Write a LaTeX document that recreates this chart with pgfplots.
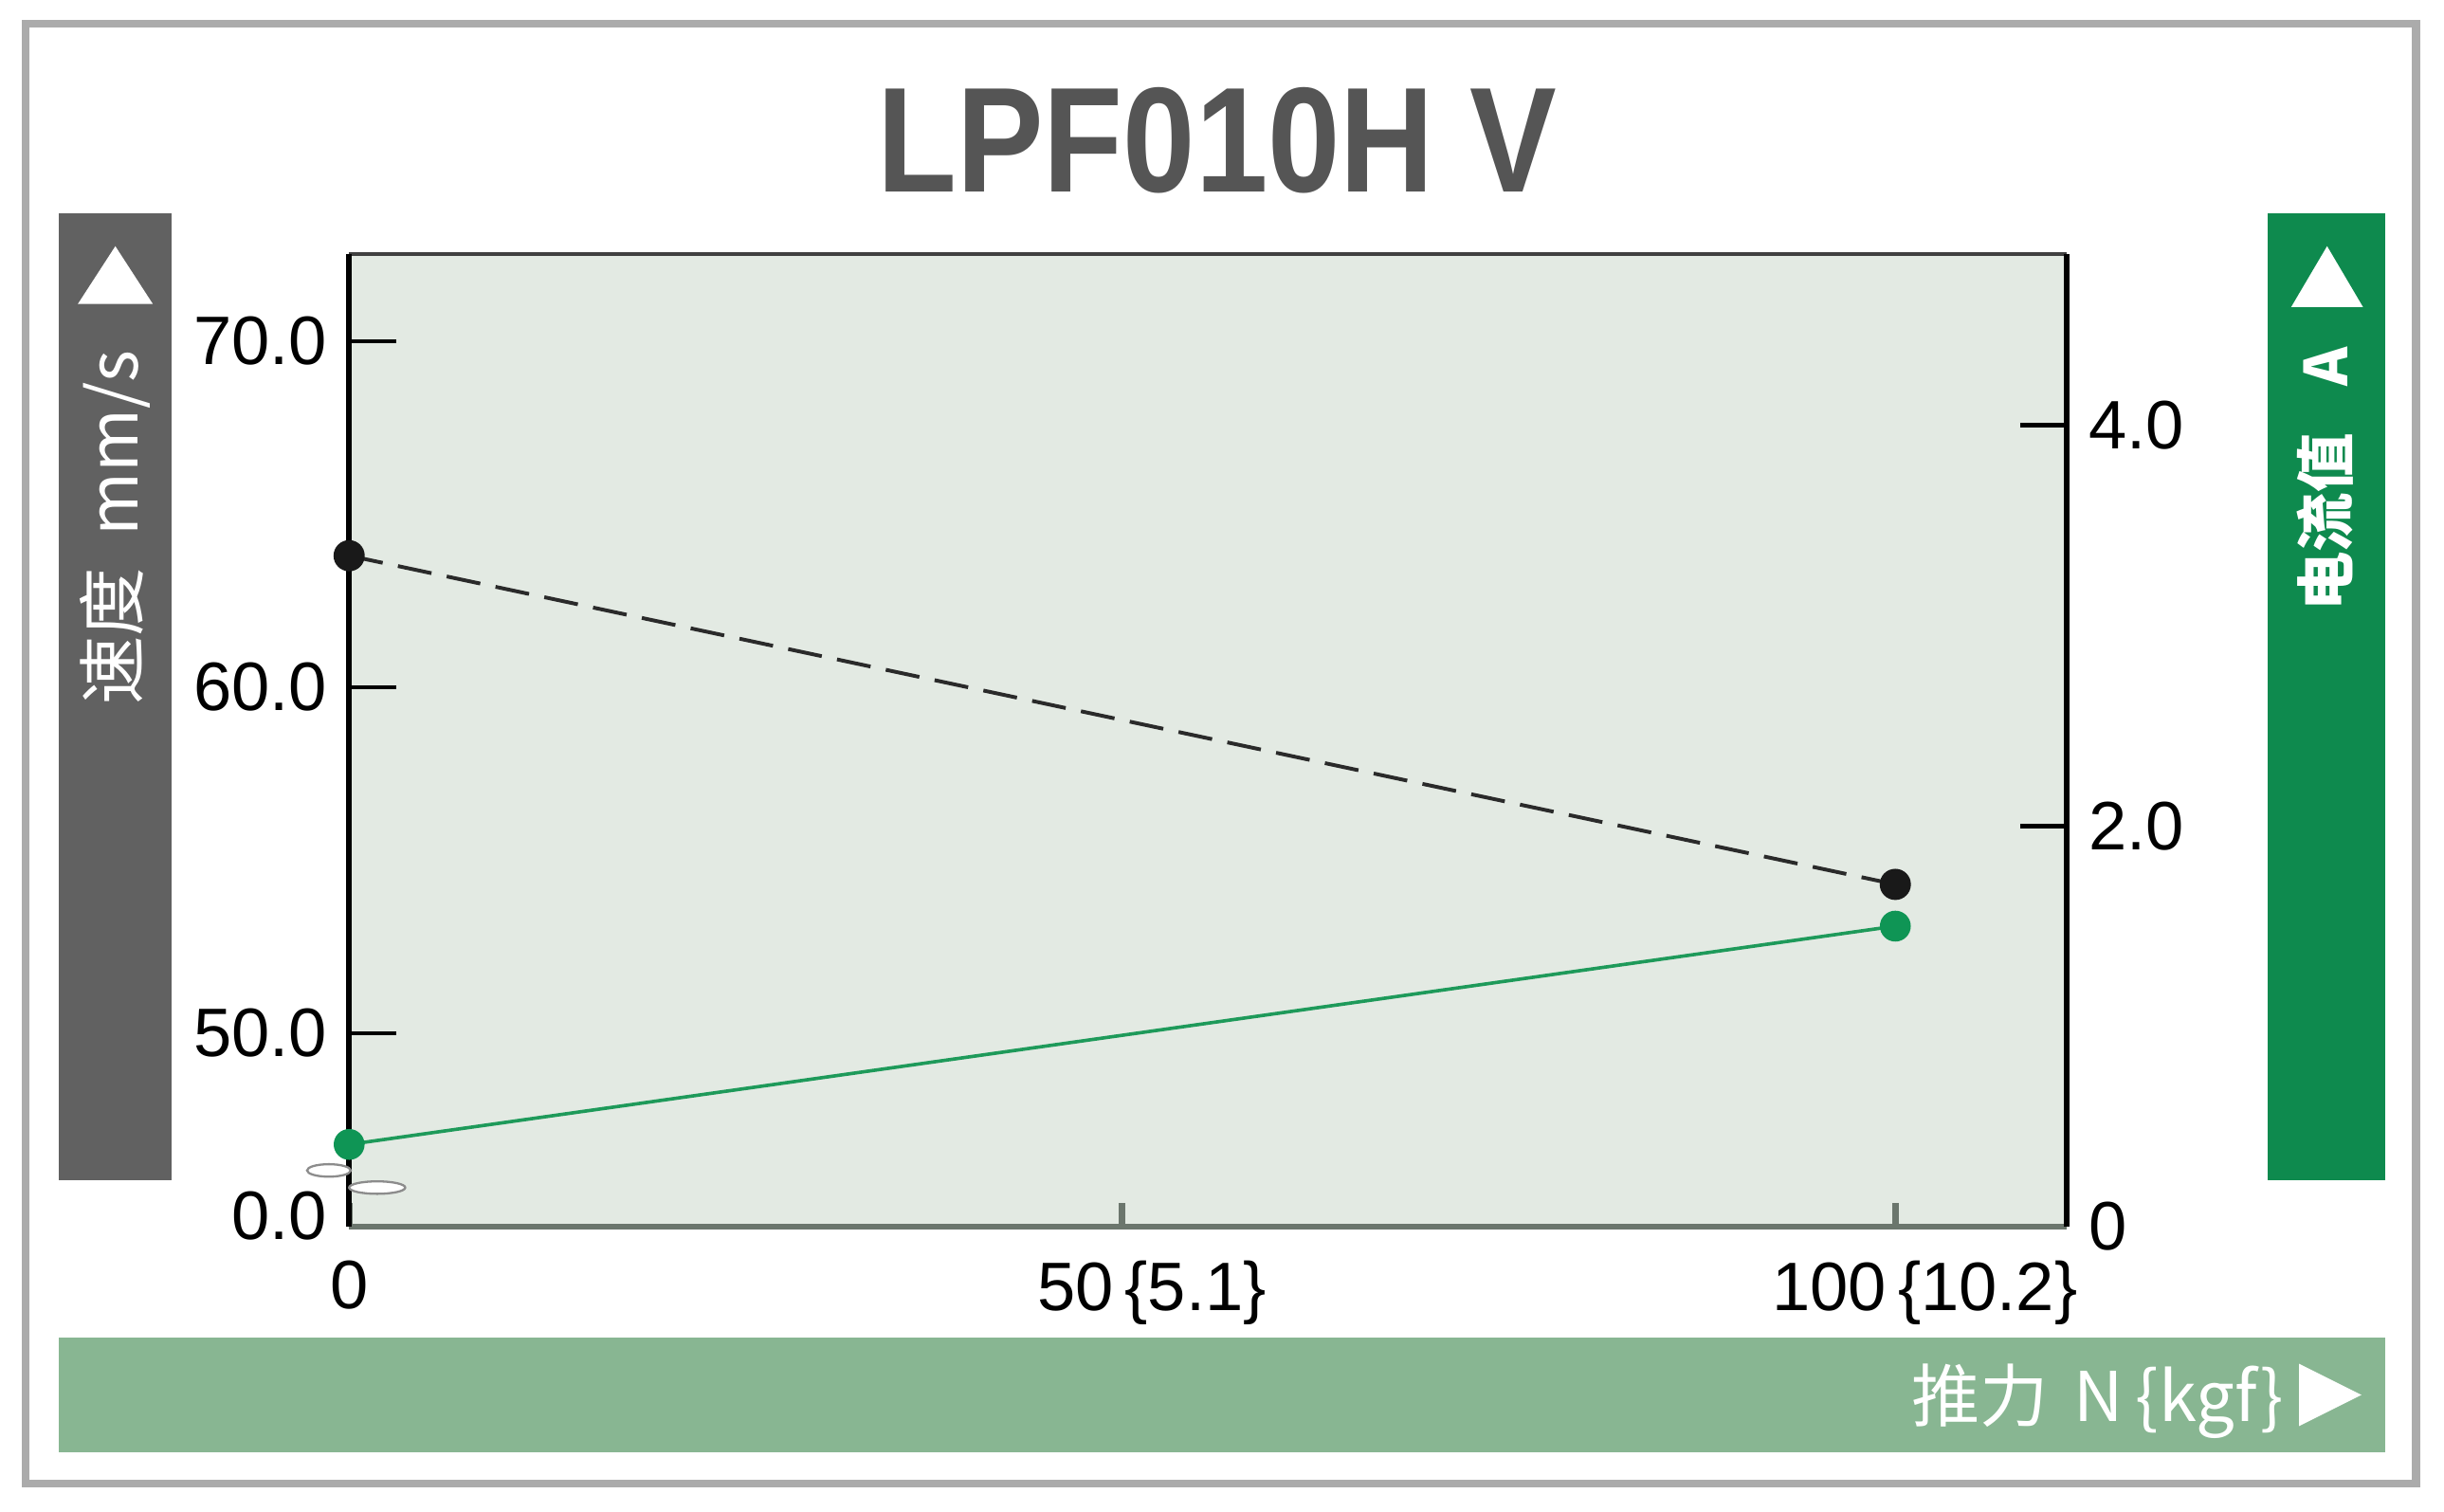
\documentclass[border=0pt]{standalone}
\usepackage{fontspec}
\setmainfont{Liberation Sans}
\newfontfamily\cjk{Noto Sans CJK SC}
\newfontfamily\titlefont[FakeStretch=0.87]{Liberation Sans}
\usepackage{pgfplots}
\pgfplotsset{compat=1.18}
\definecolor{plotbg}{HTML}{E3EAE3}
\definecolor{leftbar}{HTML}{616161}
\definecolor{rightbar}{HTML}{0E8A4E}
\definecolor{bottombar}{HTML}{88B692}
\definecolor{titlegray}{HTML}{555555}
\definecolor{framegray}{HTML}{ABABAB}
\definecolor{botline}{HTML}{6B766D}
\definecolor{speedc}{HTML}{2A2A2A}
\definecolor{currc}{HTML}{1E9A5A}
\definecolor{currm}{HTML}{0F9555}
\begin{document}
\begin{tikzpicture}[x=0.25pt,y=0.25pt]
\path[use as bounding box, fill=white] (0,0) rectangle (1568,970);
% outer frame
\draw[framegray, line width=1.25pt] (16.5,18) rectangle (1550,955);
% title
\node[anchor=base, text=titlegray, font=\titlefont\bfseries\fontsize{24}{28}\selectfont, inner sep=0pt] at (781,847) {LPF010H V};
% left bar
\fill[leftbar] (38,213) rectangle (110,833);
\fill[white] (50,775) -- (98,775) -- (74,812) -- cycle;
\node[rotate=90, text=white, font=\cjk\fontsize{11}{13}\selectfont, inner sep=0pt] at (74,631.5) {速度\hspace{5pt}mm/s};
% right bar
\fill[rightbar] (1455,213) rectangle (1530,833);
\fill[white] (1470,773) -- (1516,773) -- (1493,812) -- cycle;
\node[rotate=90, text=white, font=\cjk\bfseries\fontsize{9.5}{12}\selectfont, inner sep=0pt] at (1492,662.5) {电流值\hspace{7.5pt}A};
% bottom bar
\fill[bottombar] (38,38) rectangle (1530,112);
\fill[white] (1475,95) -- (1475,55) -- (1515,75) -- cycle;
\node[anchor=base east, text=white, font=\cjk\fontsize{11}{13}\selectfont, inner sep=0pt] at (1466,58) {推力\hspace{4pt}N\hspace{2pt}\{kgf\}};

\begin{axis}[
  at={(56pt,45.75pt)}, anchor=south west,
  scale only axis, width=275.5pt, height=156pt,
  xmin=0, xmax=111.09, ymin=44.41, ymax=72.52,
  axis line style={draw=none},
  axis background/.style={fill=plotbg},
  tick align=inside, xtick pos=bottom, ytick pos=left,
  major tick length=7.5pt,
  xtick={0,50,100},
  xticklabels={0,{\hspace*{9.5pt}50\,\{5.1\}},{\hspace*{9.5pt}100\,\{10.2\}}},
  xtick style={/pgfplots/major tick length=3.75pt, draw=botline, line width=1pt},
  ytick style={black, line width=0.7pt},
  ytick={50,60,70}, yticklabels={50.0,60.0,70.0},
  extra y ticks={44.41}, extra y tick labels={0.0},
  extra y tick style={major tick length=0pt, yticklabel style={yshift=1.75pt}},
  ticklabel style={font=\fontsize{11}{13}\selectfont},
  xticklabel style={yshift=-2pt},
  /pgf/number format/assume math mode=true,
  clip=false,
]
\draw[botline, line width=1pt] (rel axis cs:0,0) -- (rel axis cs:1,0);
\draw[black!75, line width=0.6pt] (rel axis cs:0,1) -- (rel axis cs:1,1);
\draw[black, line width=0.9pt] (rel axis cs:0,0) -- (rel axis cs:0,1);
\addplot[speedc, line width=0.6pt, dash pattern=on 5.5pt off 2.5pt, mark=*, mark size=2.2pt, mark options={solid, fill=black!90, draw=black!90}]
  coordinates {(0,63.8) (100,54.3)};
\end{axis}

\begin{axis}[
  at={(56pt,45.75pt)}, anchor=south west,
  scale only axis, width=275.5pt, height=156pt,
  xmin=0, xmax=111.09, ymin=0, ymax=4.856,
  axis line style={draw=none},
  xtick=\empty,
  ytick pos=right, yticklabel pos=right,
  tick align=inside, major tick length=7.5pt,
  ytick style={black, line width=0.7pt},
  ytick={2,4}, yticklabels={2.0,4.0},
  extra y ticks={0}, extra y tick labels={0},
  extra y tick style={major tick length=0pt},
  ticklabel style={font=\fontsize{11}{13}\selectfont},
  /pgf/number format/assume math mode=true,
  clip=false,
]
\draw[black, line width=0.9pt] (rel axis cs:1,0) -- (rel axis cs:1,1);
\addplot[currc, line width=0.55pt, mark=*, mark size=2.2pt, mark options={fill=currm, draw=currm}]
  coordinates {(0,0.41) (100,1.50)};
\end{axis}
% axis break
\draw[black!45, fill=white, line width=0.35pt] (211,219) ellipse [x radius=3.5pt, y radius=1pt];
\draw[black!45, fill=white, line width=0.35pt] (242,208) ellipse [x radius=4.5pt, y radius=1pt];
\end{tikzpicture}
\end{document}
